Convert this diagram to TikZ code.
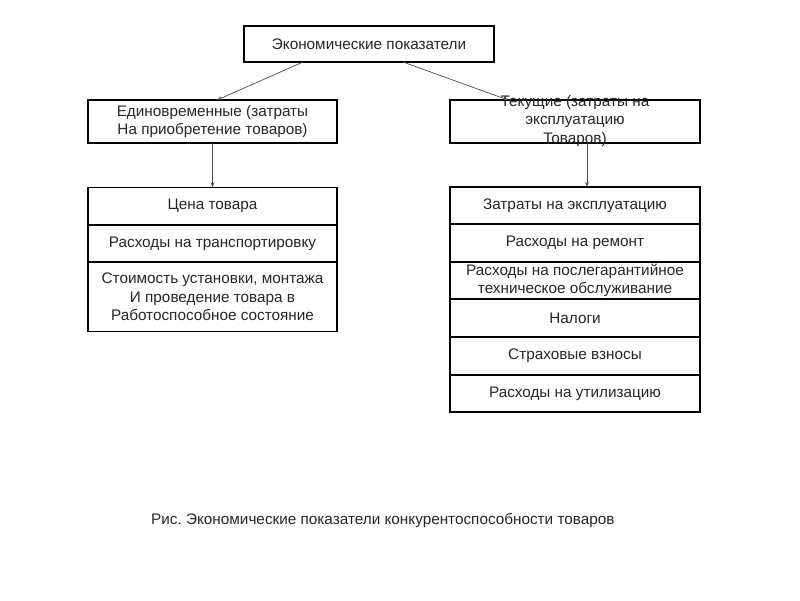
\documentclass[tikz,border=0pt]{standalone}
\usepackage{fontspec}
\setmainfont{Liberation Sans}
\usetikzlibrary{arrows.meta}
\begin{document}
\frenchspacing
\begin{tikzpicture}[x=1pt,y=-1pt,
  box/.style={draw=black, line width=1.5pt, minimum width=249pt, inner sep=0pt, outer sep=0pt},
  txt/.style={align=center, inner sep=0pt, text=black!85, font=\fontsize{15.3}{18.5}\selectfont},
  conn/.style={draw=black!70, line width=0.7pt, -{Stealth[length=5pt,width=3.5pt]}}]
\useasboundingbox (0,0) rectangle (800,600);
\node[box, minimum width=250pt, minimum height=36pt] (top) at (369,44) {};
\node[txt] at (top) {Экономические показатели};
\node[box, minimum height=43pt] (l2) at (212.5,121.5) {};
\node[txt] at (l2) {Единовременные (затраты\\На приобретение товаров)};
\node[box, minimum width=250pt, minimum height=43pt] (r2) at (575,121.5) {};
\node[txt] at (575,121) {Текущие (затраты на\\эксплуатацию\\Товаров)};
% left stack
\node[box, minimum height=37pt] (la) at (212.5,206) {};
\node[txt] at (la) {Цена товара};
\node[box, minimum height=37pt] (lb) at (212.5,243.5) {};
\node[txt] at (lb) {Расходы на транспортировку};
\node[box, minimum height=69pt] (lc) at (212.5,297) {};
\node[txt] at (lc) {Стоимость установки, монтажа\\И проведение товара в\\Работоспособное состояние};
% right stack
\node[box, minimum width=250pt, minimum height=37pt] (ra) at (575,205.5) {};
\node[txt] at (ra) {Затраты на эксплуатацию};
\node[box, minimum width=250pt, minimum height=38pt] (rb) at (575,243) {};
\node[txt] at (rb) {Расходы на ремонт};
\node[box, minimum width=250pt, minimum height=37pt] (rc) at (575,280.5) {};
\node[txt] at (rc) {Расходы на послегарантийное\\техническое обслуживание};
\node[box, minimum width=250pt, minimum height=38pt] (rd) at (575,318) {};
\node[txt] at (rd) {Налоги};
\node[box, minimum width=250pt, minimum height=38pt] (re) at (575,356) {};
\node[txt] at (re) {Страховые взносы};
\node[box, minimum width=250pt, minimum height=37pt] (rf) at (575,393.5) {};
\node[txt] at (rf) {Расходы на утилизацию};
% connectors
\draw[conn] ([xshift=-66pt]top.south) -- ([xshift=4.5pt]l2.north);
\draw[conn] ([xshift=34pt]top.south) -- ([xshift=-67pt]r2.north);
\draw[conn] (l2.south) -- (la.north);
\draw[conn] ([xshift=12pt]r2.south) -- ([xshift=12pt]ra.north);
% caption
\node[txt, anchor=west] (cap) at (151,520) {Рис. Экономические показатели конкурентоспособности товаров};
\end{tikzpicture}
\end{document}
